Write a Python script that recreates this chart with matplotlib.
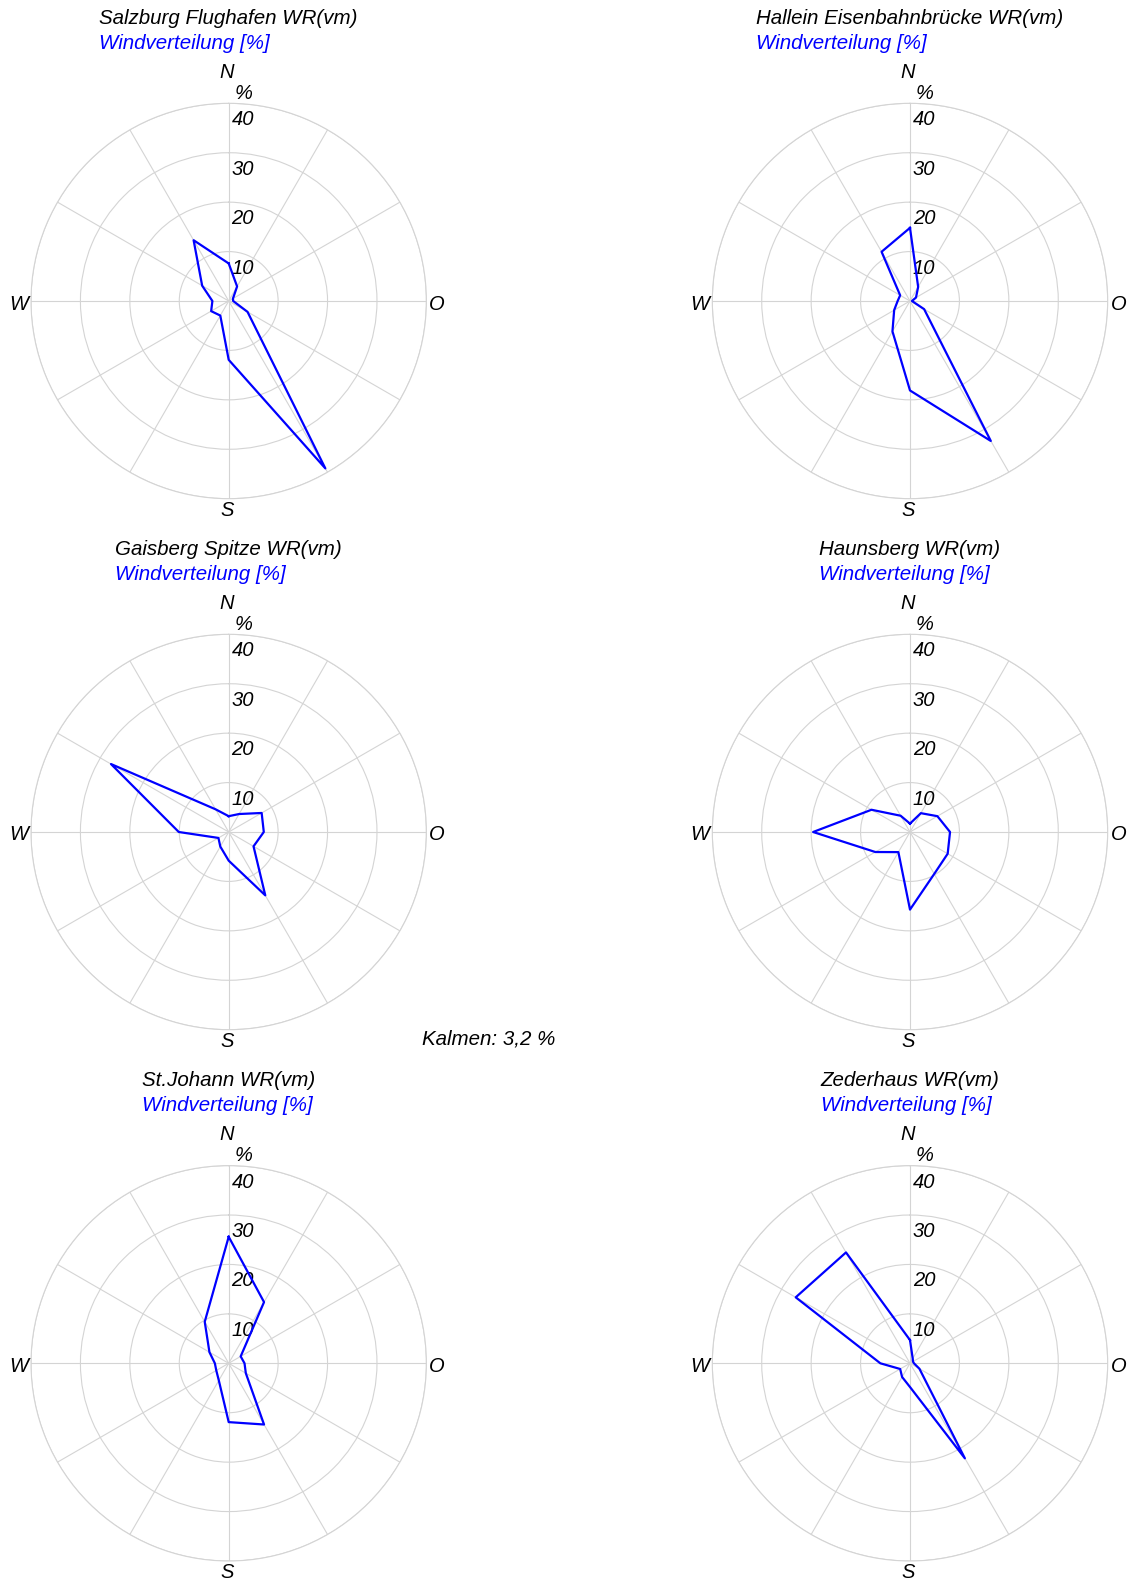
import numpy as np
import matplotlib
matplotlib.use("Agg")
import matplotlib.pyplot as plt
from matplotlib.text import Annotation

plt.rcParams['font.family'] = ['Liberation Sans', 'DejaVu Sans']
plt.rcParams['font.style'] = 'italic'

# wind directions (degrees, clockwise from north)
directions = [0, 30, 60, 90, 120, 150, 180, 210, 240, 270, 300, 330]
rings = [10, 20, 30, 40]

titles = ["Salzburg Flughafen WR(vm)", "Hallein Eisenbahnbrücke WR(vm)",
          "Gaisberg Spitze WR(vm)", "Haunsberg WR(vm)",
          "St.Johann WR(vm)", "Zederhaus WR(vm)"]

# frequency per direction [%]
salzburg_flughafen = [7.6, 3.4, 1.0, 0.9, 4.4, 39.1, 11.9, 3.4, 4.1, 3.3, 6.2, 14.2]
hallein = [14.8, 3.3, 1.4, 0.4, 3.3, 32.7, 18.1, 7.1, 3.7, 2.5, 2.3, 11.5]
gaisberg = [3.2, 4.2, 7.7, 7.1, 5.8, 14.8, 5.8, 3.4, 2.4, 10.1, 27.5, 5.3]
haunsberg = [1.7, 4.4, 6.4, 8.1, 8.8, 9.8, 15.7, 4.7, 8.1, 19.6, 9.0, 3.8]
st_johann = [25.6, 14.3, 2.8, 3.2, 4.0, 14.3, 11.9, 4.0, 2.9, 2.8, 4.5, 9.7]
zederhaus = [4.7, 1.1, 0.7, 0.8, 2.2, 22.2, 4.8, 3.2, 2.3, 6.0, 26.7, 25.9]

series = [salzburg_flughafen, hallein, gaisberg, haunsberg, st_johann, zederhaus]
calm_text = "Kalmen: 3,2 %"

W, H = 1131, 1586
fig = plt.figure(figsize=(W / 100, H / 100), dpi=100)
fig.patch.set_facecolor("white")

centers = [(228.7, 301), (910, 301), (228.7, 832), (910, 832),
           (228.7, 1363.3), (910, 1363.3)]
R = 197.7
grid_col = "#d4d4d4"
blue = "#0000ff"
fs = 14.5
fs_title = 14.8

theta = np.deg2rad(directions)
for (cx, cy), title, vals in zip(centers, titles, series):
    ax = fig.add_axes([(cx - R) / W, 1 - (cy + R) / H, 2 * R / W, 2 * R / H],
                      projection="polar")
    ax.set_theta_zero_location("N")
    ax.set_theta_direction(-1)
    ax.set_ylim(0, 40)
    ax.set_yticks(rings)
    ax.set_yticklabels([])
    ax.set_xticks(theta)
    ax.set_xticklabels([])
    ax.tick_params(length=0)
    ax.grid(True, color=grid_col, lw=0.8)
    ax.spines["polar"].set_color(grid_col)
    ax.spines["polar"].set_linewidth(0.8)

    t = np.append(theta, theta[0])
    r = np.append(vals, vals[0])
    ax.plot(t, r, color=blue, lw=1.6, zorder=5)

    for v in rings:
        ax.annotate(str(v), xy=(0, v), xytext=(14, -16.5), textcoords="offset pixels",
                    ha="center", va="center", fontsize=fs, annotation_clip=False)
    ax.annotate("%", xy=(0, 40), xytext=(15, 10), textcoords="offset pixels",
                ha="center", va="center", fontsize=fs, annotation_clip=False)
    ax.annotate("N", xy=(0, 40), xytext=(-2, 31), textcoords="offset pixels",
                ha="center", va="center", fontsize=fs, annotation_clip=False)
    ax.annotate("S", xy=(np.pi, 40), xytext=(-2, -12), textcoords="offset pixels",
                ha="center", va="center", fontsize=fs, annotation_clip=False)
    ax.annotate("W", xy=(1.5 * np.pi, 40), xytext=(-3, -3), textcoords="offset pixels",
                ha="right", va="center", fontsize=fs, annotation_clip=False)
    ax.annotate("O", xy=(0.5 * np.pi, 40), xytext=(3, -3), textcoords="offset pixels",
                ha="left", va="center", fontsize=fs, annotation_clip=False)

    # station name centered, second line left-aligned below it
    ttl = fig.text(cx / W, 1 - (cy - R - 85) / H, title, ha="center", va="center",
                   fontsize=fs_title, color="black")
    fig.add_artist(Annotation(
        "Windverteilung [%]", xy=(0, 0.5), xycoords=ttl, xytext=(0, -25),
        textcoords="offset pixels", ha="left", va="center", fontsize=fs_title,
        color=blue))

fig.text(489 / W, 1 - 1039 / H, calm_text, ha="center", va="center", fontsize=fs_title)

fig.savefig("out.png", dpi=100, facecolor="white")
